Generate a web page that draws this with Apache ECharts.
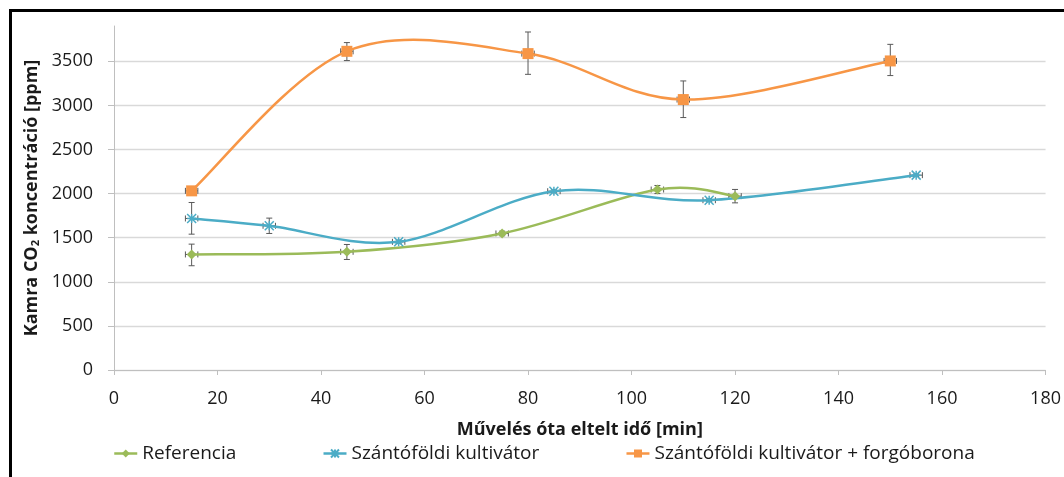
<!DOCTYPE html>
<html><head><meta charset="utf-8">
<script src="https://cdn.jsdelivr.net/npm/echarts@6/dist/echarts.min.js"></script>
<style>
html,body{margin:0;padding:0;background:#fff;}
#frame{position:absolute;left:9px;top:9px;width:1100px;height:520px;border-left:3px solid #000;border-top:3px solid #000;}
#c{position:absolute;left:0;top:0;width:1064px;height:477px;}
</style></head>
<body>
<div id="frame"></div>
<div id="c"></div>
<script>
// Data
const seriesNames = ['Referencia', 'Szántóföldi kultivátor', 'Szántóföldi kultivátor + forgóborona'];
const refX = [15, 45, 75, 105, 120];
const refY = [1310, 1340, 1548, 2046, 1971];
const refLo = [1182, 1253, 1522, 2000, 1895];
const refHi = [1427, 1423, 1574, 2092, 2047];

const kultX = [15, 30, 55, 85, 115, 155];
const kultY = [1718, 1635, 1453, 2027, 1925, 2209];
const kultLo = [1540, 1548, 1433, 2010, 1908, 2195];
const kultHi = [1899, 1722, 1473, 2044, 1942, 2223];

const forgX = [15, 45, 80, 110, 150];
const forgY = [2031, 3613, 3587, 3066, 3504];
const forgLo = [2010, 3508, 3352, 2862, 3338];
const forgHi = [2052, 3712, 3832, 3277, 3692];

const xErr = 1.2; // small horizontal error bar half-width (min)

const xTicks = [0, 20, 40, 60, 80, 100, 120, 140, 160, 180];
const yTicks = [0, 500, 1000, 1500, 2000, 2500, 3000, 3500];

const colors = ['#9BBB59', '#4BACC6', '#F79646'];
const errColor = '#595959';
const font = 'Open Sans';

function pairs(xs, ys) { return xs.map((x, i) => [x, ys[i]]); }

function errSeries(xs, ys, lo, hi) {
  return {
    type: 'custom',
    silent: true,
    z: 1,
    data: xs.map((x, i) => [x, lo[i], hi[i], ys[i]]),
    encode: { x: 0, y: [1, 2] },
    renderItem: function (params, api) {
      const x = api.value(0);
      const top = api.coord([x, api.value(2)]);
      const bot = api.coord([x, api.value(1)]);
      const yv = api.value(3);
      const left = api.coord([x - xErr, yv]);
      const right = api.coord([x + xErr, yv]);
      const c = 3;
      const st = { stroke: errColor, lineWidth: 1 };
      return {
        type: 'group',
        children: [
          { type: 'line', shape: { x1: top[0], y1: top[1], x2: bot[0], y2: bot[1] }, style: st },
          { type: 'line', shape: { x1: top[0] - c, y1: top[1], x2: top[0] + c, y2: top[1] }, style: st },
          { type: 'line', shape: { x1: bot[0] - c, y1: bot[1], x2: bot[0] + c, y2: bot[1] }, style: st },
          { type: 'line', shape: { x1: left[0], y1: left[1], x2: right[0], y2: right[1] }, style: st },
          { type: 'line', shape: { x1: left[0], y1: left[1] - c, x2: left[0], y2: left[1] + c }, style: st },
          { type: 'line', shape: { x1: right[0], y1: right[1] - c, x2: right[0], y2: right[1] + c }, style: st }
        ]
      };
    }
  };
}

// Smooth curve (Excel-like Catmull-Rom Bezier) drawn through the axes' coordinate system
function curveSeries(xs, ys, color) {
  return {
    type: 'custom',
    silent: true,
    z: 2,
    data: xs.map((x, i) => [x, ys[i]]),
    encode: { x: 0, y: 1 },
    renderItem: function (params, api) {
      const i = params.dataIndex;
      const n = xs.length;
      if (i >= n - 1) return null;
      const P = k => api.coord([xs[Math.max(0, Math.min(n - 1, k))], ys[Math.max(0, Math.min(n - 1, k))]]);
      const p0 = P(i - 1), p1 = P(i), p2 = P(i + 1), p3 = P(i + 2);
      const t = 1 / 6;
      const c1 = [p1[0] + (p2[0] - p0[0]) * t, p1[1] + (p2[1] - p0[1]) * t];
      const c2 = [p2[0] - (p3[0] - p1[0]) * t, p2[1] - (p3[1] - p1[1]) * t];
      return {
        type: 'bezierCurve',
        shape: { x1: p1[0], y1: p1[1], x2: p2[0], y2: p2[1], cpx1: c1[0], cpy1: c1[1], cpx2: c2[0], cpy2: c2[1] },
        style: { stroke: color, lineWidth: 2.5, fill: null }
      };
    }
  };
}

const starPath = 'path://M0,0L10,10M10,0L0,10M5,0L5,10M0,5L10,5';

const chart = echarts.init(document.getElementById('c'), null, { renderer: 'canvas' });
const gridColors = yTicks.map(() => '#d9d9d9').concat(['rgba(0,0,0,0)']);

chart.setOption({
  animation: false,
  textStyle: { fontFamily: font },
  grid: { left: 114, right: 18, top: 26, bottom: 107 },
  legend: {
    data: seriesNames.map((nm, i) => ({ name: nm, lineStyle: { color: colors[i], width: 2.5, opacity: 1 } })),
    left: 108, top: 439,
    itemWidth: 23, itemHeight: 10, itemGap: 86,
    textStyle: { fontFamily: font, fontSize: 19, color: '#1a1a1a' }
  },
  xAxis: {
    type: 'value', min: xTicks[0], max: xTicks[xTicks.length - 1], interval: 20,
    name: 'Művelés óta eltelt idő [min]', nameLocation: 'middle', nameGap: 51,
    nameTextStyle: { fontFamily: font, fontSize: 18, fontWeight: 'bold', color: '#1a1a1a' },
    axisLine: { show: true, lineStyle: { color: '#bfbfbf', width: 1 } },
    axisTick: { show: true, length: 5, inside: false, lineStyle: { color: '#bfbfbf' } },
    axisLabel: { fontFamily: font, fontSize: 18, color: '#1a1a1a', margin: 20 },
    splitLine: { show: false }
  },
  yAxis: {
    type: 'value', min: 0, max: 3900, interval: 500,
    name: '{a|Kamra CO}{s|2}{a| koncentráció [ppm]}', nameLocation: 'middle', nameGap: 70, nameRotate: 90,
    nameTextStyle: {
      rich: {
        a: { fontFamily: font, fontSize: 18, fontWeight: 'bold', color: '#1a1a1a' },
        s: { fontFamily: font, fontSize: 11, fontWeight: 'bold', color: '#1a1a1a', verticalAlign: 'bottom', padding: [7, 0, 0, 0] }
      }
    },
    axisLine: { show: true, lineStyle: { color: '#bfbfbf', width: 1 } },
    axisTick: { show: true, length: 6, inside: false, lineStyle: { color: '#bfbfbf' } },
    axisLabel: { fontFamily: font, fontSize: 18, color: '#1a1a1a', margin: 21, showMaxLabel: false, formatter: v => String(v) },
    splitLine: { show: true, lineStyle: { color: gridColors, width: 1.3 } }
  },
  series: [
    errSeries(refX, refY, refLo, refHi),
    errSeries(kultX, kultY, kultLo, kultHi),
    errSeries(forgX, forgY, forgLo, forgHi),
    curveSeries(refX, refY, colors[0]),
    curveSeries(kultX, kultY, colors[1]),
    curveSeries(forgX, forgY, colors[2]),
    {
      name: seriesNames[0], type: 'line', z: 3,
      data: pairs(refX, refY),
      symbol: 'diamond', symbolSize: 10,
      lineStyle: { color: colors[0], width: 2.5, opacity: 0 },
      itemStyle: { color: colors[0] }
    },
    {
      name: seriesNames[1], type: 'line', z: 3,
      data: pairs(kultX, kultY),
      symbol: starPath, symbolSize: 9,
      lineStyle: { color: colors[1], width: 2.5, opacity: 0 },
      itemStyle: { color: colors[1], borderColor: colors[1], borderWidth: 1.5 }
    },
    {
      name: seriesNames[2], type: 'line', z: 3,
      data: pairs(forgX, forgY),
      symbol: 'rect', symbolSize: 11,
      lineStyle: { color: colors[2], width: 2.5, opacity: 0 },
      itemStyle: { color: colors[2] }
    }
  ]
});
</script>
</body></html>
